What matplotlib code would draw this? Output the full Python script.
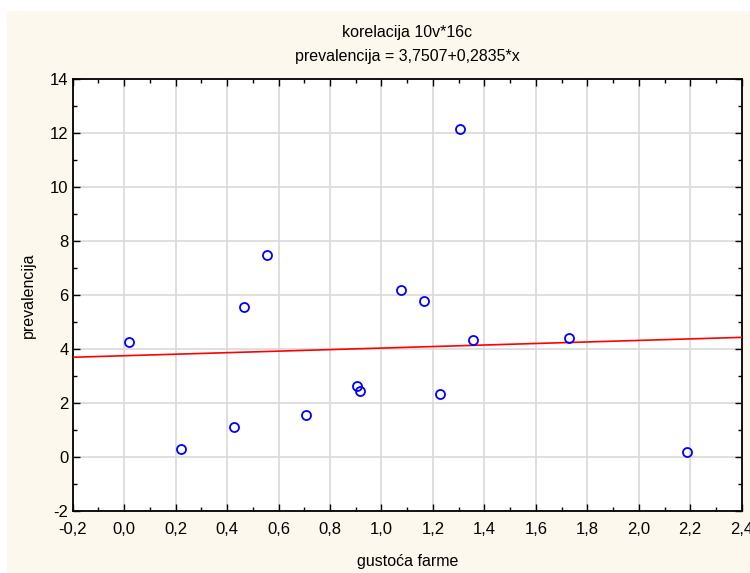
import numpy as np
import matplotlib
matplotlib.use('Agg')
import matplotlib.pyplot as plt
from matplotlib.ticker import MultipleLocator, FuncFormatter
from matplotlib.patches import Rectangle

# --------- podaci ---------
gustoca = [0.019, 0.221, 0.428, 0.466, 0.555, 0.707, 0.905, 0.917,
           1.076, 1.165, 1.227, 1.305, 1.356, 1.729, 2.187]
prevalencija = [4.26, 0.30, 1.11, 5.56, 7.48, 1.56, 2.63, 2.44,
                6.19, 5.78, 2.33, 12.15, 4.33, 4.41, 0.19]
intercept = 3.7507
slope = 0.2835
# --------------------------

plt.rcParams['font.family'] = ['Liberation Sans', 'DejaVu Sans']
narrow = ['Liberation Sans Narrow', 'Liberation Sans', 'DejaVu Sans']

fig = plt.figure(figsize=(7.5, 5.73), dpi=100)
fig.patches.append(Rectangle((7 / 750, 0), 1, 1 - 11 / 573, transform=fig.transFigure,
                             facecolor='#fdf8ee', edgecolor='none', zorder=-10))
ax = fig.add_axes([72.7 / 750, 1 - 511 / 573, 669 / 750, 432 / 573])
ax.set_facecolor('white')

ax.set_xlim(-0.2, 2.4)
ax.set_ylim(-2, 14)
ax.xaxis.set_major_locator(MultipleLocator(0.2))
ax.xaxis.set_minor_locator(MultipleLocator(0.1))
ax.yaxis.set_major_locator(MultipleLocator(2))
ax.yaxis.set_minor_locator(MultipleLocator(1))
ax.xaxis.set_major_formatter(FuncFormatter(lambda v, p: f"{v:.1f}".replace('.', ',').replace('-0,0', '0,0')))
ax.yaxis.set_major_formatter(FuncFormatter(lambda v, p: f"{v:.0f}"))

ax.grid(True, which='major', color='#d9d9d9', linewidth=1.2)
ax.set_axisbelow(True)
ax.tick_params(which='both', direction='in', top=True, right=True, labelsize=12, colors='black')
ax.tick_params(which='major', length=5, width=1)
ax.tick_params(which='minor', length=3, width=1)
ax.tick_params(axis='x', pad=8)
ax.tick_params(axis='y', pad=3)
for s in ax.spines.values():
    s.set_linewidth(1.3)

xs = np.array(ax.get_xlim())
ax.plot(xs, intercept + slope * xs, color='red', linewidth=1.2, zorder=3)
ax.plot(gustoca, prevalencija, 'o', markerfacecolor='none', markeredgecolor='blue',
        markersize=6.5, markeredgewidth=1.3, zorder=4, clip_on=False)

ax.set_xlabel('gustoća farme', fontsize=11.5, family=narrow, labelpad=12)
ax.set_ylabel('prevalencija', fontsize=11.5, family=narrow, labelpad=10)

fig.text(407 / 750, 1 - 33 / 573, 'korelacija 10v*16c', ha='center', va='center',
         fontsize=11.5, family=narrow)
fig.text(407 / 750, 1 - 57 / 573, 'prevalencija = 3,7507+0,2835*x', ha='center', va='center',
         fontsize=11.5, family=narrow)

fig.savefig('out.png', dpi=100)
